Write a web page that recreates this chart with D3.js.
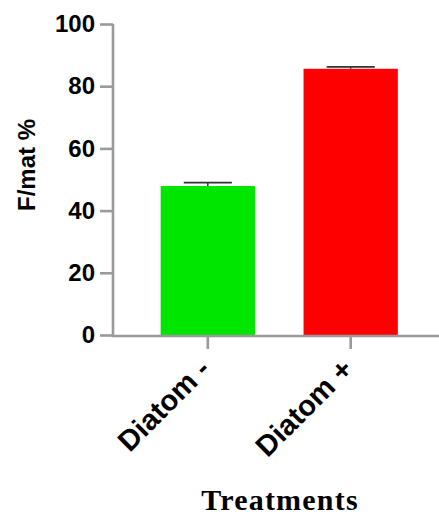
<!DOCTYPE html>
<html>
<head>
<meta charset="utf-8">
<script src="https://cdn.jsdelivr.net/npm/d3@7"></script>
<style>
  html, body { margin: 0; padding: 0; background: #fff; }
  svg { display: block; }
</style>
</head>
<body>
<svg id="chart" width="439" height="515"></svg>
<script>
const categories = ["Diatom -", "Diatom +"];
const means = [47.9, 85.6];
const errors = [1.1, 0.6];
const colors = ["#00e600", "#ff0000"];
const yTicks = [0, 20, 40, 60, 80, 100];
const yLabel = "F/mat %";
const xLabel = "Treatments";

const svg = d3.select("#chart");
const axisColor = "#9a9a9a";

const y = d3.scaleLinear().domain([0, 100]).range([335, 24]);
const x = d3.scaleBand().domain(categories).range([113.5, 445]).paddingInner(0.34).paddingOuter(0.33);

// bars
svg.selectAll("rect.bar").data(categories).enter().append("rect")
  .attr("class", "bar")
  .attr("x", d => x(d))
  .attr("width", x.bandwidth())
  .attr("y", (d, i) => y(means[i]))
  .attr("height", (d, i) => y(0) - y(means[i]))
  .attr("fill", (d, i) => colors[i]);

// error bars (upper only)
const capW = x.bandwidth() * 0.51;
categories.forEach((c, i) => {
  const cx = x(c) + x.bandwidth() / 2;
  svg.append("line").attr("x1", cx).attr("x2", cx)
    .attr("y1", y(means[i])).attr("y2", y(means[i] + errors[i]))
    .attr("stroke", "#333").attr("stroke-width", 1.5);
  svg.append("line").attr("x1", cx - capW / 2).attr("x2", cx + capW / 2)
    .attr("y1", y(means[i] + errors[i])).attr("y2", y(means[i] + errors[i]))
    .attr("stroke", "#333").attr("stroke-width", 1.8);
});

// y axis
const yAxis = d3.axisLeft(y).tickValues(yTicks).tickSize(13).tickPadding(5).tickSizeOuter(0);
const gy = svg.append("g").attr("transform", "translate(113,0)").call(yAxis);
gy.select(".domain").attr("stroke", axisColor).attr("stroke-width", 2.6)
  .attr("d", `M0,${y(100)}V${y(0) + 1}`);
gy.selectAll(".tick line").attr("stroke", axisColor).attr("stroke-width", 2.6);
gy.selectAll(".tick text")
  .attr("fill", "#000")
  .style("font-family", "'Liberation Sans', Arial, sans-serif")
  .style("font-weight", "bold")
  .style("font-size", "24px");

// x axis
const xAxis = d3.axisBottom(x).tickSize(13).tickSizeOuter(0).tickFormat("");
const gx = svg.append("g").attr("transform", "translate(0,336)").call(xAxis);
gx.select(".domain").attr("stroke", axisColor).attr("stroke-width", 2.6)
  .attr("d", "M111.7,0H439");
gx.selectAll(".tick line").attr("stroke", axisColor).attr("stroke-width", 2.6);

// x tick labels rotated
svg.selectAll("text.xlab").data(categories).enter().append("text")
  .attr("class", "xlab")
  .attr("transform", d => `translate(${x(d) + x.bandwidth() / 2 + 4},371) rotate(-45)`)
  .attr("text-anchor", "end")
  .style("font-family", "'Liberation Sans', Arial, sans-serif")
  .style("font-weight", "bold")
  .style("font-size", "29px")
  .text(d => d);

// y label
svg.append("text")
  .attr("transform", "translate(35,165) rotate(-90)")
  .attr("text-anchor", "middle")
  .style("font-family", "'Liberation Sans', Arial, sans-serif")
  .style("font-weight", "bold")
  .style("font-size", "24px")
  .text(yLabel);

// x label
svg.append("text")
  .attr("x", 280).attr("y", 510)
  .attr("text-anchor", "middle")
  .style("font-family", "'Liberation Serif', 'Times New Roman', serif")
  .style("font-weight", "bold")
  .style("font-size", "30px")
  .style("letter-spacing", "1.2px")
  .text(xLabel);
</script>
</body>
</html>
